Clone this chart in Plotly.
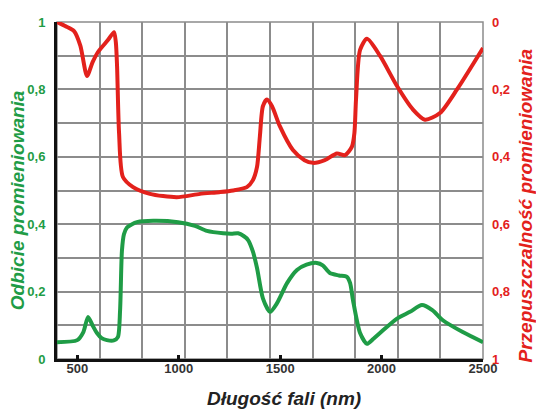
import plotly.graph_objects as go

# Wavelength (nm) and reflectance (green, left axis)
refl_x = [400, 500, 530, 553, 575, 597, 620, 646, 680, 700, 711, 720, 730, 745, 770, 794, 874, 997,
          1080, 1139, 1219, 1260, 1293, 1320, 1342, 1365, 1386, 1415, 1450, 1484, 1534, 1583, 1630, 1681,
          1710, 1745, 1790, 1829, 1845, 1859, 1894, 1928, 1960, 1992, 2076, 2140, 2199, 2250, 2302, 2400, 2500]
refl_y = [0.05, 0.056, 0.08, 0.125, 0.10, 0.077, 0.062, 0.056, 0.055, 0.065, 0.145, 0.32, 0.37, 0.39, 0.40, 0.406, 0.41, 0.406,
          0.395, 0.38, 0.373, 0.372, 0.373, 0.365, 0.353, 0.32, 0.27, 0.18, 0.14, 0.165, 0.225, 0.264, 0.28, 0.285,
          0.278, 0.255, 0.248, 0.244, 0.225, 0.175, 0.077, 0.045, 0.06, 0.077, 0.12, 0.14, 0.16, 0.145, 0.115, 0.08, 0.05]

# Wavelength (nm) and transmittance (red, right reversed axis)
trans_x = [400, 440, 484, 515, 548, 575, 602, 652, 681, 690, 696, 706, 725, 775, 858, 990,
           1105, 1200, 1268, 1336, 1365, 1386, 1400, 1415, 1435, 1460, 1499, 1563, 1620, 1662, 1720, 1780, 1820,
           1854, 1866, 1874, 1894, 1928, 1992, 2076, 2155, 2214, 2288, 2372, 2500]
trans_y = [0.0, 0.012, 0.027, 0.07, 0.16, 0.12, 0.089, 0.053, 0.03, 0.06, 0.13, 0.33, 0.46, 0.49, 0.51, 0.52,
           0.51, 0.505, 0.50, 0.49, 0.47, 0.43, 0.34, 0.25, 0.23, 0.25, 0.31, 0.38, 0.41, 0.418, 0.41, 0.39, 0.395,
           0.37, 0.33, 0.23, 0.083, 0.05, 0.10, 0.19, 0.26, 0.29, 0.27, 0.20, 0.077]

x_ticks = [500, 1000, 1500, 2000, 2500]
y_grid = [round(i * 0.1, 1) for i in range(11)]
y_left_text = ["0", "", "0,2", "", "0,4", "", "0,6", "", "0,8", "", "1"]
y_right_text = ["0", "", "0,2", "", "0,4", "", "0,6", "", "0,8", "", "1"]

GREEN = "#1f9c46"
RED = "#e3211c"
FONT = "Liberation Sans"

fig = go.Figure()
fig.add_trace(go.Scatter(x=refl_x, y=refl_y, mode="lines", xaxis="x", yaxis="y",
                         line=dict(color=GREEN, width=4, shape="spline", smoothing=0.7),
                         showlegend=False))
fig.add_trace(go.Scatter(x=trans_x, y=trans_y, mode="lines", xaxis="x", yaxis="y2",
                         line=dict(color=RED, width=4, shape="spline", smoothing=0.7),
                         showlegend=False))
fig.add_trace(go.Scatter(x=[None], y=[None], xaxis="x2", yaxis="y", showlegend=False, hoverinfo="skip"))

fig.update_layout(
    width=536, height=410,
    margin=dict(l=57, r=53, t=22, b=51),
    paper_bgcolor="white", plot_bgcolor="white",
    xaxis=dict(range=[400, 2500], tick0=400, dtick=210, showgrid=True, gridcolor="#8c8c8c", gridwidth=1.5,
               showticklabels=False, ticks="", zeroline=False,
               showline=True, linecolor="#111111", linewidth=3),
    xaxis2=dict(range=[400, 2500], overlaying="x", side="bottom", anchor="y",
                tickvals=x_ticks, ticktext=[str(v) for v in x_ticks],
                ticks="inside", ticklen=4, tickwidth=3, tickcolor="#111111",
                showgrid=False, zeroline=False, showline=False,
                tickfont=dict(family=FONT, size=13, color="#333333", weight="bold")),
    yaxis=dict(range=[0, 1], tickvals=y_grid, ticktext=y_left_text, showgrid=True,
               gridcolor="#8c8c8c", gridwidth=1.5, zeroline=False, ticks="",
               showline=True, linecolor="#111111", linewidth=3, ticklabelstandoff=6,
               tickfont=dict(family=FONT, size=13, color=GREEN, weight="bold")),
    yaxis2=dict(range=[1, 0], overlaying="y", side="right", anchor="x",
                tickvals=y_grid, ticktext=y_right_text, showgrid=False, zeroline=False, ticks="",
                showline=False, ticklabelstandoff=8,
                tickfont=dict(family=FONT, size=13, color=RED, weight="bold")),
    shapes=[dict(type="rect", xref="paper", yref="paper", x0=0, x1=1, y0=0, y1=1,
                 line=dict(color="#8c8c8c", width=1.5), layer="below")],
    annotations=[
        dict(text="Odbicie promieniowania", xref="paper", yref="paper", x=-0.091, y=0.472,
             textangle=-90, showarrow=False, xanchor="center", yanchor="middle",
             font=dict(family=FONT, size=19, color=GREEN, weight="bold", style="italic")),
        dict(text="Przepuszczalność promieniowania", xref="paper", yref="paper", x=1.099, y=0.456,
             textangle=-90, showarrow=False, xanchor="center", yanchor="middle",
             font=dict(family=FONT, size=19, color=RED, weight="bold", style="italic")),
        dict(text="Długość fali (nm)", xref="paper", yref="paper", x=0.533, y=-0.08,
             showarrow=False, xanchor="center", yanchor="top",
             font=dict(family=FONT, size=19, color="#222222", weight="bold", style="italic")),
    ],
)

fig.write_html("out.html")
